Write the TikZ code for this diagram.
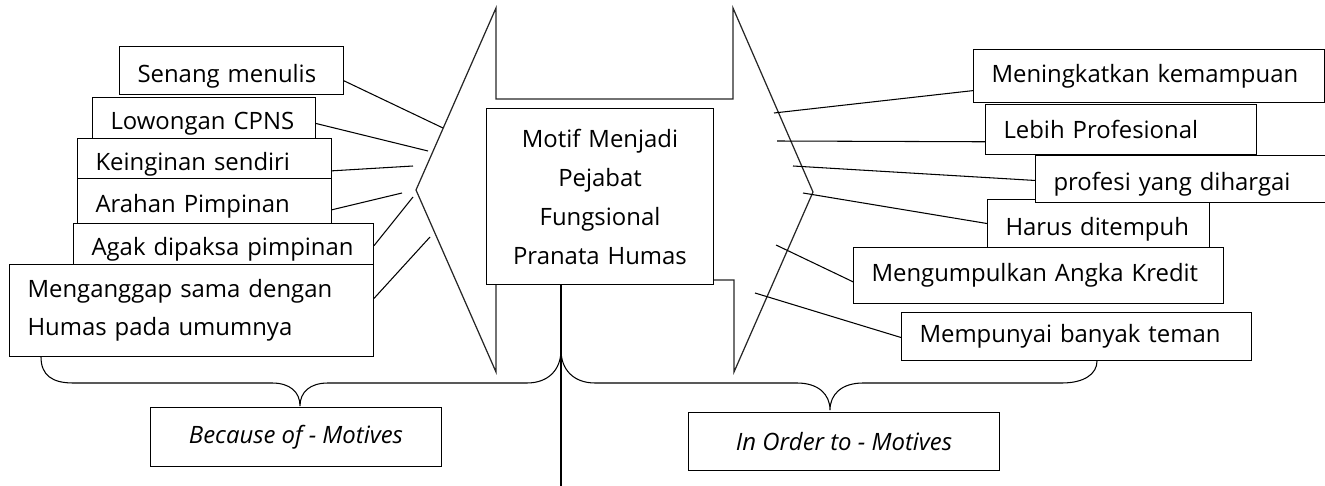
\documentclass[tikz,border=0pt]{standalone}
\usepackage{fontspec}
\setmainfont{Open Sans}
\usetikzlibrary{calc}
\newcommand{\motivefont}{\fontsize{13.6pt}{0.77cm}\selectfont}
\tikzstyle{motive} = [rectangle, draw=black, fill=white, anchor=north west,
                      align=left, inner xsep=0.36cm, inner ysep=0pt,
                      line width=0.6pt, font=\motivefont]
\tikzstyle{sunk} = [text height=0.46cm, text depth=0pt]
\tikzstyle{centre box} = [rectangle, draw=black, fill=white, anchor=north west,
                          align=center, inner sep=0pt, text width=4.54cm,
                          minimum height=3.52cm, line width=0.6pt,
                          font=\fontsize{13.6pt}{0.78cm}\selectfont]
\tikzstyle{group} = [rectangle, draw=black, fill=white, anchor=north west,
                     inner sep=0pt, line width=0.6pt, font=\motivefont\itshape]
\tikzstyle{link} = [line width=0.6pt, black]
\tikzstyle{outline} = [line width=0.7pt, black!85, line join=miter]

\begin{document}
\begin{tikzpicture}[x=0.02cm, y=-0.02cm]
        \useasboundingbox (0,0) rectangle (1325,486);

        % double arrow behind the centre
        \draw [outline] (496,8) -- (496,99) -- (733,99) -- (733,8) -- (813,192)
              -- (734,372) -- (734,280) -- (496,280) -- (496,372) -- (416,190) -- cycle;

        \node (centre) [centre box] at (486,108) {Motif Menjadi\\Pejabat\\Fungsional\\Pranata Humas};

        % because of
        \node (senang) [motive, sunk, text width=3.76cm, minimum height=0.96cm] at (119,46) {Senang menulis};
        \node (lowongan) [motive, sunk, text width=3.74cm, minimum height=0.82cm] at (92,97) {Lowongan CPNS};
        \node (keinginan) [motive, sunk, text width=4.36cm, minimum height=0.80cm] at (77,138) {Keinginan sendiri};
        \node (arahan) [motive, sunk, text width=4.36cm, minimum height=0.90cm] at (77,178) {Arahan Pimpinan};
        \node (agak) [motive, sunk, text width=5.28cm, minimum height=0.82cm] at (73,223) {Agak dipaksa pimpinan};
        \node (menganggap) [motive, text width=6.56cm, minimum height=1.84cm] at (9,264) {Menganggap sama dengan\\Humas pada umumnya};

        % in order to
        \node (meningkatkan) [motive, text width=6.30cm, minimum height=1.06cm] at (973,49) {Meningkatkan kemampuan};
        \node (lebih) [motive, text width=4.70cm, minimum height=1.00cm] at (985,104) {Lebih Profesional};
        \node (harus) [motive, sunk, text width=3.72cm, minimum height=0.96cm] at (987,199) {Harus ditempuh};
        \node (profesi) [motive, sunk, text width=5.18cm, minimum height=0.94cm] at (1035,155) {profesi yang dihargai};
        \node (mengumpulkan) [motive, text width=6.68cm, minimum height=1.12cm] at (853,247) {Mengumpulkan Angka Kredit};
        \node (mempunyai) [motive, text width=6.28cm, minimum height=0.96cm] at (901,312) {Mempunyai banyak teman};

        \node (because) [group, minimum width=5.82cm, minimum height=1.18cm] at (150,407) {Because of - Motives};
        \node (inorder) [group, minimum width=6.22cm, minimum height=1.16cm] at (688,412) {In Order to - Motives};

        % free ends on the arrow heads
        \coordinate (l1) at (443,128);
        \coordinate (l2) at (428,151);
        \coordinate (l3) at (413,166);
        \coordinate (l4) at (402,193);
        \coordinate (l5) at (413,197);
        \coordinate (l6) at (430,237);
        \coordinate (r1) at (774,113);
        \coordinate (r2) at (777,141);
        \coordinate (r3) at (793,166);
        \coordinate (r4) at (803,193);
        \coordinate (r5) at (776,245);
        \coordinate (r6) at (755,293);
        \coordinate (split) at (561,350);
        \coordinate (stem) at (561,486);

        \draw [link] ($(senang.north east)!0.71!(senang.south east)$) -- (l1);
        \draw [link] ($(lowongan.north east)!0.63!(lowongan.south east)$) -- (l2);
        \draw [link] ($(keinginan.north east)!0.8!(keinginan.south east)$) -- (l3);
        \draw [link] ($(arahan.north east)!0.69!(arahan.south east)$) -- (l4);
        \draw [link] ($(agak.north east)!0.54!(agak.south east)$) -- (l5);
        \draw [link] ($(menganggap.north east)!0.37!(menganggap.south east)$) -- (l6);

        \draw [link] ($(meningkatkan.north west)!0.77!(meningkatkan.south west)$) -- (r1);
        \draw [link] ($(lebih.north west)!0.74!(lebih.south west)$) -- (r2);
        \draw [link] ($(profesi.north west)!0.53!(profesi.south west)$) -- (r3);
        \draw [link] ($(harus.north west)!0.5!(harus.south west)$) -- (r4);
        \draw [link] ($(mengumpulkan.north west)!0.61!(mengumpulkan.south west)$) -- (r5);
        \draw [link] ($(mempunyai.north west)!0.52!(mempunyai.south west)$) -- (r6);

        % stem and braces
        \draw [link] (stem |- centre.south) -- (stem);
        \draw [link] ($(menganggap.south west)+(32,0)$) .. controls (41,375) and (52,383) .. (73,383)
              -- (272,383) .. controls (290,383) and (300,392) .. (300,406)
              .. controls (300,392) and (310,383) .. (328,383)
              -- (527,383) .. controls (548,383) and (561,370) .. (split);
        \draw [link] (split) .. controls (561,370) and (574,383) .. (595,383)
              -- (797,383) .. controls (818,383) and (830,394) .. (830,410)
              .. controls (830,394) and (842,383) .. (863,383)
              -- (1062,383) .. controls (1084,383) and (1097,374) .. ($(mempunyai.south west)+(196,0)$);

\end{tikzpicture}
\end{document}
